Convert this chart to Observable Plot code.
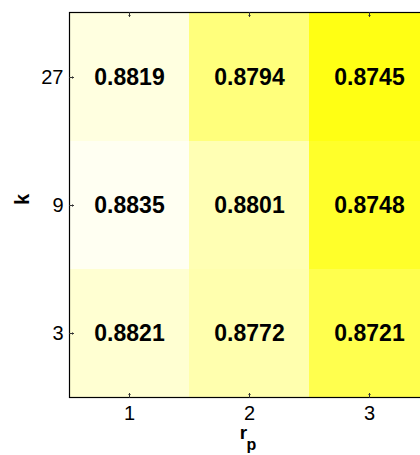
<!DOCTYPE html>
<html>
<head>
<meta charset="utf-8">
<script src="https://cdn.jsdelivr.net/npm/d3@7"></script>
<script src="https://cdn.jsdelivr.net/npm/@observablehq/plot@0.6"></script>
<style>
  html, body { margin: 0; padding: 0; background: #fff; overflow: hidden; }
  #chart { width: 420px; height: 455px; overflow: hidden; }
  #chart svg { max-width: none !important; }
</style>
</head>
<body>
<div id="chart"></div>
<script>
// Data
const rpValues = [1, 2, 3];
const kValues = [27, 9, 3];
const row27 = [0.8819, 0.8794, 0.8745];
const row9  = [0.8835, 0.8801, 0.8748];
const row3  = [0.8821, 0.8772, 0.8721];
const rows = [row27, row9, row3];

// Cell colours (one per cell, row-major)
const palette = ["#ffffe0", "#ffff7c", "#ffff14",
                 "#fffff2", "#ffffb4", "#ffff2a",
                 "#ffffd2", "#ffffae", "#ffff4e"];

const table = [];
kValues.forEach((k, i) => rpValues.forEach((rp, j) => {
  table.push({k, rp, value: rows[i][j], key: `${k}-${rp}`});
}));

const font = "'Liberation Sans', Arial, Helvetica, sans-serif";

const chart = Plot.plot({
  width: 440,
  height: 455,
  marginLeft: 69,
  marginRight: 11,
  marginTop: 12,
  marginBottom: 58,
  style: {fontFamily: font, background: "#fff", color: "#000", maxWidth: "none"},
  x: {type: "band", domain: rpValues, padding: 0},
  y: {type: "band", domain: kValues, padding: 0},
  color: {type: "ordinal", domain: table.map(d => d.key), range: palette},
  marks: [
    Plot.cell(table, {x: "rp", y: "k", fill: "key"}),
    Plot.text(table, {x: "rp", y: "k", text: d => d.value.toFixed(4),
      fontSize: 23, fontWeight: "bold", fill: "#000"}),
    Plot.frame({stroke: "#000", strokeWidth: 1.2}),
    // inward tick marks
    Plot.vector(rpValues, {x: d => d, frameAnchor: "bottom", length: 4, rotate: 0, anchor: "start", stroke: "#333", strokeWidth: 1}),
    Plot.vector(rpValues, {x: d => d, frameAnchor: "top", length: 4, rotate: 180, anchor: "start", stroke: "#333", strokeWidth: 1}),
    Plot.vector(kValues, {y: d => d, frameAnchor: "left", length: 4, rotate: 90, anchor: "start", stroke: "#333", strokeWidth: 1}),
    Plot.axisX({anchor: "bottom", tickSize: 0, tickPadding: 8, fontSize: 20, label: null}),
    Plot.axisY({anchor: "left", tickSize: 0, tickPadding: 6, fontSize: 20, label: null}),
    // axis labels
    Plot.text(["r"], {frameAnchor: "bottom", dx: -6, dy: 41, text: d => d, fontSize: 19, fontWeight: "bold", fill: "#000"}),
    Plot.text(["p"], {frameAnchor: "bottom", dx: 2, dy: 52, text: d => d, fontSize: 16, fontWeight: "bold", fill: "#000"}),
    Plot.text(["k"], {frameAnchor: "left", dx: -47, text: d => d, rotate: -90, fontSize: 20, fontWeight: "bold", fill: "#000"})
  ]
});
chart.style.maxWidth = "none";
document.getElementById("chart").appendChild(chart);
</script>
</body>
</html>
